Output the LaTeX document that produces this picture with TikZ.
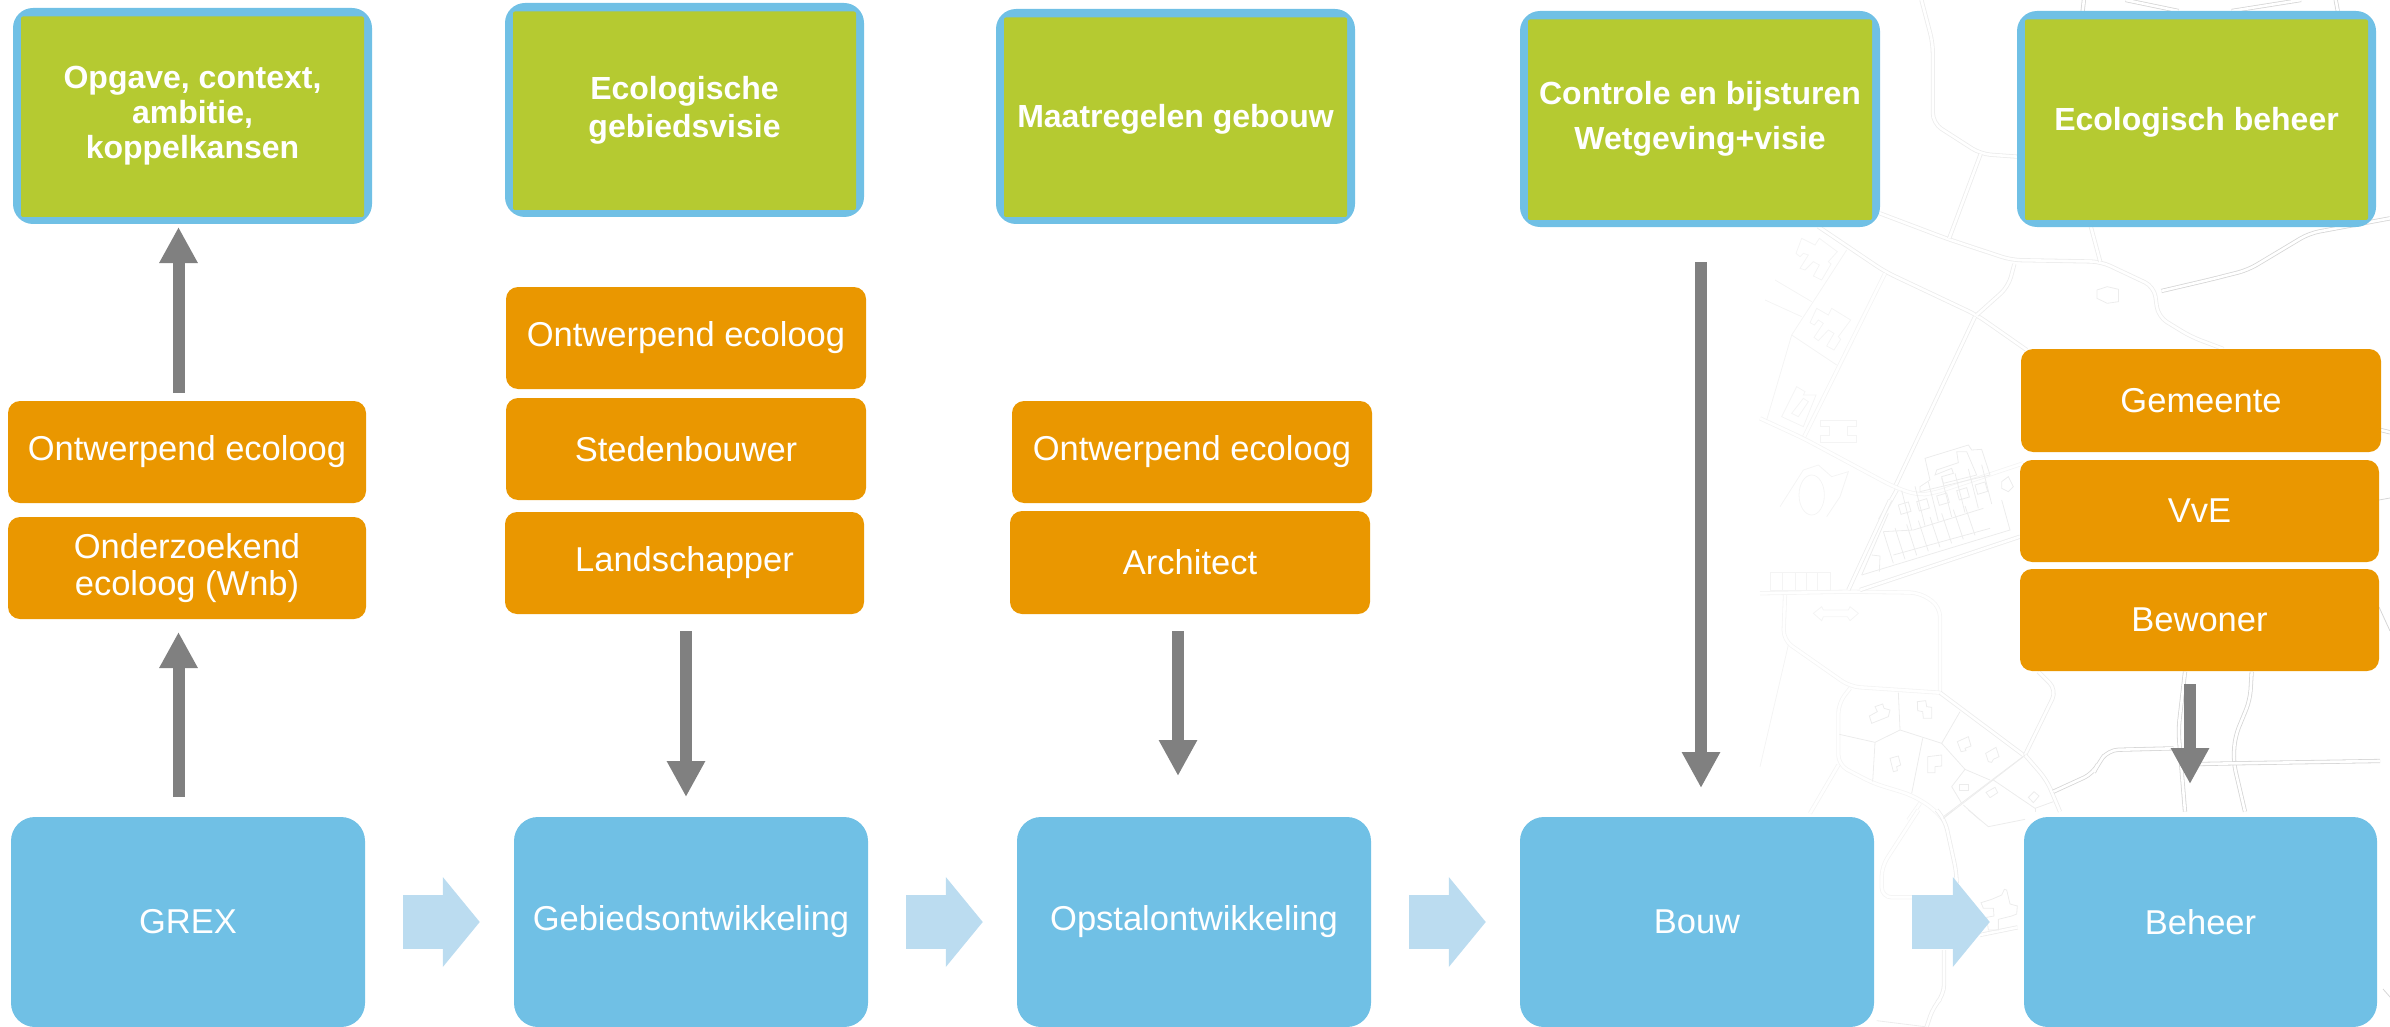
\documentclass[tikz,border=0pt]{standalone}
\usepackage{fontspec}
\setmainfont{Liberation Sans}
\usetikzlibrary{arrows.meta,calc}
\definecolor{grn}{HTML}{B5CA31}
\definecolor{skyb}{HTML}{70C0E5}
\definecolor{orng}{HTML}{EA9700}
\definecolor{pale}{HTML}{BBDCF0}
\definecolor{gry}{HTML}{808080}
\definecolor{mapa}{HTML}{F4F4F4}
\definecolor{mapb}{HTML}{ECECEC}
\definecolor{mapc}{HTML}{D6D6D6}
\tikzset{
  greenbox/.style={rounded corners=20pt,fill=skyb,inner sep=0pt,text=white,align=center,
    font=\fontsize{32}{35}\selectfont\bfseries,
    execute at begin node={\rule{0pt}{29pt}},
    path picture={\fill[grn,rounded corners=2pt]
      ([shift={(8,8.5)}]path picture bounding box.north west) rectangle
      ([shift={(-8,-7)}]path picture bounding box.south east);}},
  orangebox/.style={rounded corners=12pt,fill=orng,inner sep=0pt,text=white,align=center,
    font=\fontsize{34.5}{37}\selectfont},
  bluebox/.style={rounded corners=24pt,fill=skyb,inner sep=0pt,text=white,align=center,
    font=\fontsize{34.5}{37}\selectfont},
  flowarrow/.style={draw=pale,line width=54pt,-{Triangle[length=37pt,width=88pt,fill=pale]},
    shorten <=38pt,shorten >=34pt},
  greyarrow/.style={draw=gry,line width=12pt,-{Triangle[length=36pt,width=36pt,fill=gry]}},
  road/.style={draw=#1,line width=.8pt,double=white,double distance=2.6pt,rounded corners=10pt},
  road/.default=mapb,
  lot/.style={draw=#1,line width=.8pt},
  lot/.default=mapb
}
\newcommand{\mybox}[7]{\node[#1,minimum width={#5-#3},minimum height={#6-#4}] (#2) at ({(#3+#5)/2},{(#4+#6)/2}) {#7};}
\begin{document}
\begin{tikzpicture}[x=1pt,y=-1pt]
\useasboundingbox (0,0) rectangle (2390,1027);
% background map
\begin{scope}[shift={(1750,0)},x=.40816pt,y=-.33333pt]
\path[road] (318,640) -- (480,715) -- (640,780) -- (860,785) -- (990,860) -- (1000,950) -- (1080,1010) -- (1160,1047);
\path[road=mapc] (1008,873) -- (1130,838) -- (1220,810) -- (1370,700) -- (1568,655);
\path[road] (420,0) -- (448,130) -- (448,370) -- (565,462) -- (655,470);
\path[road] (565,462) -- (488,715);
\path[road] (835,680) -- (858,785);
\path[road=mapc] (818,0) -- (815,33);
\path[road=mapc] (1435,0) -- (1440,33);
\path[road=mapc] (920,0) -- (1050,33);
\path[road=mapc] (1180,33) -- (1350,0);
\path[road=mapc] (1545,1290) -- (1568,1297);
\draw[lot] (850,870) -- (875,860) -- (903,868) -- (903,905) -- (875,910) -- (850,895) -- cycle;
\end{scope}
\begin{scope}[shift={(1760,220)},x=.33333pt,y=-.33333pt]
\path[road] (175,20) -- (375,155) -- (650,285) -- (800,390);
\path[road] (763,132) -- (745,200) -- (650,285);
\path[road] (645,290) -- (405,800);
\path[road=mapa] (375,160) -- (130,655);
\path[road=mapa] (0,595) -- (130,655) -- (400,800) -- (470,825) -- (520,820) -- (790,730);
\path[road] (410,810) -- (360,900);
\draw[lot=mapa] (260,90) -- (95,345) -- (20,600);
\draw[lot=mapa] (95,345) -- (230,435);
\draw[lot=mapa] (45,180) -- (155,245);
\draw[lot=mapa] (15,240) -- (125,290);
\draw[lot=mapa] (125,55) -- (165,75) -- (178,55) -- (232,95) -- (205,125) -- (213,132) -- (185,180) -- (160,168) -- (178,135) -- (160,125) -- (135,150) -- (120,145) -- (145,105) -- (130,100) -- (120,110) -- (108,100) -- cycle;
\draw[lot=mapa] (170,265) -- (205,285) -- (215,265) -- (272,300) -- (235,350) -- (242,358) -- (222,390) -- (200,378) -- (222,340) -- (205,330) -- (175,362) -- (162,352) -- (190,310) -- (175,300) -- (163,315) -- (150,308) -- cycle;
\draw[lot=mapa] (110,500) -- (135,515) -- (130,525) -- (168,525) -- (130,620) -- (65,590) -- cycle;
\draw[lot=mapa] (130,535) -- (95,580) -- (115,590) -- (145,545) -- cycle;
\draw[lot=mapa] (180,600) -- (288,600) -- (288,618) -- (262,618) -- (262,645) -- (288,645) -- (288,666) -- (180,666) -- (180,645) -- (208,645) -- (208,620) -- (180,620) -- cycle;
\draw[lot=mapa] (155,825) ellipse [x radius=38,y radius=60];
\draw[lot=mapa] (60,860) -- (130,750) -- (175,735) -- (215,770) -- (265,755) -- (240,830) -- (200,890);
\draw[lot] (495,715) -- (625,675) -- (635,690) -- (665,688) -- (690,765) -- (480,815) -- (480,800) -- (510,780) -- cycle;
\draw[lot] (530,750) -- (595,728) -- (590,695) -- (620,695) -- (650,765) -- (550,790) -- (545,770) -- (580,760) -- (575,745) -- (525,765) -- cycle;
\draw[lot] (725,785) -- (745,770) -- (760,800) -- (745,815) -- (725,805) -- cycle;
\foreach \x/\y in {415/855,470/845,530/828,590/812,645/795}
  \draw[lot] (\x,\y) -- ++(30,-9) -- ++(8,28) -- ++(-30,9) -- cycle;
\end{scope}
\begin{scope}[shift={(1760,500)},x=.33333pt,y=-.33333pt]
\path[road=mapa] (0,280) -- (265,275) -- (480,278) -- (540,320) -- (540,578);
\path[road] (265,270) -- (390,0);
\path[road] (300,270) -- (780,110);
\path[road=mapa] (75,285) -- (70,420) -- (270,560) -- (540,578);
\path[road=mapa] (270,565) -- (235,610) -- (235,795) -- (340,850) -- (455,885) -- (520,925) -- (550,960);
\path[road] (540,578) -- (790,765);
\path[road=mapa] (235,795) -- (150,940);
\draw[lot=mapa] (85,435) -- (0,800);
\path[road=mapa] (480,910) -- (445,960);
\draw[lot] (305,225) -- (750,90) -- (725,0);
\draw[lot] (305,225) -- (385,40);
\draw[lot] (370,95) -- (460,90) -- (670,25);
\draw[lot] (400,165) -- (690,85);
\draw[lot] (335,165) -- (360,168) -- (358,215);
\foreach \i in {0,...,7}
  \draw[lot] ({370+\i*35},{95-\i*11}) -- ({400+\i*35},{190-\i*12});
\foreach \i in {0,...,6}
  \draw[lot] ({425+\i*40},{-28-\i*13}) -- ({455+\i*40},{90-\i*13});
\draw[lot] (415,578) -- (420,690) -- (345,727) -- (238,703);
\draw[lot] (345,727) -- (338,845);
\draw[lot] (420,690) -- (545,730) -- (600,635);
\draw[lot] (488,715) -- (455,880);
\draw[lot] (545,730) -- (615,808) -- (575,860) -- (605,910);
\draw[lot] (550,955) -- (790,770);
\draw[lot] (615,808) -- (690,840);
\draw[lot] (345,620) -- (368,612) -- (372,625) -- (390,630) -- (385,650) -- (335,670) -- (328,648) -- (352,635) -- cycle;
\draw[lot] (472,605) -- (497,602) -- (500,620) -- (515,622) -- (515,655) -- (490,655) -- (488,635) -- (473,632) -- cycle;
\draw[lot] (592,725) -- (625,710) -- (633,738) -- (615,745) -- (618,752) -- (603,755) -- cycle;
\draw[lot] (677,760) -- (708,742) -- (717,770) -- (700,778) -- (695,787) -- (685,785) -- cycle;
\draw[lot] (390,775) -- (415,768) -- (422,795) -- (410,800) -- (412,812) -- (400,815) -- cycle;
\draw[lot] (503,770) -- (545,765) -- (545,798) -- (525,800) -- (525,818) -- (503,818) -- cycle;
\draw[lot] (597,852) rectangle (626,872);
\draw[lot] (678,877) -- (705,862) -- (713,878) -- (690,893) -- cycle;
\draw[lot=mapa] (160,340) -- (185,320) -- (190,330) -- (265,330) -- (270,320) -- (295,340) -- (270,362) -- (262,350) -- (190,350) -- (185,362) -- cycle;
\draw[lot=mapa] (30,218) rectangle (210,272);
\foreach \x in {68,105,140,172} \draw[lot=mapa] (\x,218) -- (\x,272);
\end{scope}
\begin{scope}[shift={(1860,660)},x=.33333pt,y=-.33333pt]
\path[road] (535,35) -- (590,90) -- (495,285);
\path[road] (495,285) -- (560,360) -- (600,455);
\path[road=mapc] (580,395) -- (700,340) -- (715,310) -- (745,270) -- (940,265);
\path[road=mapc] (975,35) -- (955,210) -- (975,455);
\path[road=mapc] (1175,35) -- (1170,120) -- (1125,230) -- (1120,305) -- (1155,455);
\path[road=mapc] (1020,312) -- (1120,310) -- (1560,303);
\draw[lot] (495,285) -- (250,470);
\draw[lot] (400,360) -- (525,445) -- (580,425);
\draw[lot] (525,445) -- (525,455);
\draw[lot] (505,412) -- (522,395) -- (537,408) -- (520,428) -- cycle;
\draw[lot] (310,435) -- (360,480);
\end{scope}
\begin{scope}[shift={(1870,810)},x=.33333pt,y=-.33333pt]
\path[road] (200,0) -- (225,30) -- (260,190) -- (260,215);
\path[road] (222,420) -- (222,555) -- (190,590) -- (170,650);
\path[road=mapa] (145,0) -- (35,170) -- (35,262) -- (130,262);
\draw[lot] (220,25) -- (250,0);
\draw[lot] (295,0) -- (355,50) -- (465,28);
\path[road] (330,375) -- (443,352);
\draw[lot] (333,278) -- (365,268) -- (395,255) -- (403,238) -- (410,240) -- (420,282) -- (442,288) -- (440,312) -- (425,318) -- (385,328) -- (385,360) -- (355,360) -- (350,322) -- (372,318) -- (370,295) -- (340,295) -- cycle;
\draw[lot] (20,632) -- (165,650);
\end{scope}
\draw[lot=mapc] (2379,607) -- (2390,631);
\draw[lot=mapc] (2383,989) -- (2390,997);
\draw[lot=mapc] (2379,500) -- (2390,498);
% green boxes
\mybox{greenbox}{g1}{13}{8}{372}{224}{Opgave, context,\\ambitie,\\koppelkansen}
\mybox{greenbox}{g2}{505}{3}{864}{217}{Ecologische\\[3pt]gebiedsvisie}
\mybox{greenbox}{g3}{996}{9}{1355}{224}{Maatregelen gebouw}
\mybox{greenbox}{g4}{1520}{11}{1880}{227}{Controle en bijsturen\\[10pt]Wetgeving+visie}
\mybox{greenbox}{g5}{2017}{11}{2376}{227}{Ecologisch beheer}
% orange boxes
\mybox{orangebox}{o1a}{8}{401}{366}{503}{Ontwerpend ecoloog}
\mybox{orangebox}{o1b}{8}{517}{366}{619}{Onderzoekend\\ecoloog (Wnb)}
\mybox{orangebox}{o2a}{506}{287}{866}{389}{Ontwerpend ecoloog}
\mybox{orangebox}{o2b}{506}{398}{866}{500}{Stedenbouwer}
\mybox{orangebox}{o2c}{505}{512}{864}{614}{Landschapper}
\mybox{orangebox}{o3a}{1012}{401}{1372}{503}{Ontwerpend ecoloog}
\mybox{orangebox}{o3b}{1010}{511}{1370}{614}{Architect}
\mybox{orangebox}{o5a}{2021}{349}{2381}{452}{Gemeente}
\mybox{orangebox}{o5b}{2020}{460}{2379}{562}{VvE}
\mybox{orangebox}{o5c}{2020}{569}{2379}{671}{Bewoner}
% blue boxes
\mybox{bluebox}{b1}{11}{817}{365}{1027}{GREX}
\mybox{bluebox}{b2}{514}{817}{868}{1027}{Gebiedsontwikkeling}
\mybox{bluebox}{b3}{1017}{817}{1371}{1027}{Opstalontwikkeling}
\mybox{bluebox}{b4}{1520}{817}{1874}{1027}{Bouw}
\mybox{bluebox}{b5}{2024}{817}{2377}{1027}{Beheer}
% process arrows
\draw[flowarrow] (b1) -- (b2);
\draw[flowarrow] (b2) -- (b3);
\draw[flowarrow] (b3) -- (b4);
\draw[flowarrow] (b4) -- (b5);
% grey arrows
\coordinate (a1s) at (178.5,393); \coordinate (a1e) at (178.5,227);
\coordinate (a2s) at (178.5,797); \coordinate (a2e) at (178.5,632);
\coordinate (a3s) at (686,631);   \coordinate (a3e) at (686,797);
\coordinate (a4s) at (1178,631);  \coordinate (a4e) at (1178,776);
\coordinate (a5s) at (1701,262);  \coordinate (a5e) at (1701,788);
\coordinate (a6s) at (2190,684);  \coordinate (a6e) at (2190,784);
\foreach \a in {a1,a2,a3,a4,a5,a6}
  \draw[greyarrow] (\a s) -- (\a e);
\end{tikzpicture}
\end{document}
